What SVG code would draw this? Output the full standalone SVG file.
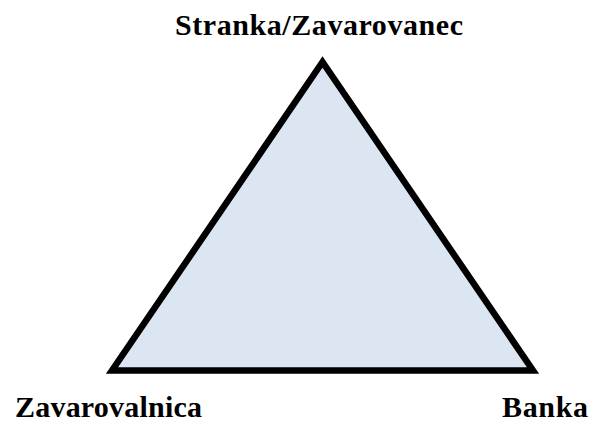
<svg xmlns="http://www.w3.org/2000/svg" width="591" height="423" viewBox="0 0 591 423">
<style>
text{font-family:'Liberation Serif','Times New Roman',Times,serif;font-weight:bold;font-size:30px;fill:#000}
</style>
<rect width="591" height="423" fill="#fff"/>
<g id="triangle">
<polygon points="322.5,62 112,370.5 533,370.5" fill="#DCE6F2" stroke="#000" stroke-width="6.5" stroke-linejoin="miter"/>
</g>
<g id="stranka"><text x="175" y="35" textLength="288" lengthAdjust="spacing">Stranka/Zavarovanec</text></g>
<g id="zavarovalnica"><text x="15" y="417" textLength="187" lengthAdjust="spacing">Zavarovalnica</text></g>
<g id="banka"><text x="502" y="417" textLength="86" lengthAdjust="spacing">Banka</text></g>
<g id="connectors"></g>
</svg>
